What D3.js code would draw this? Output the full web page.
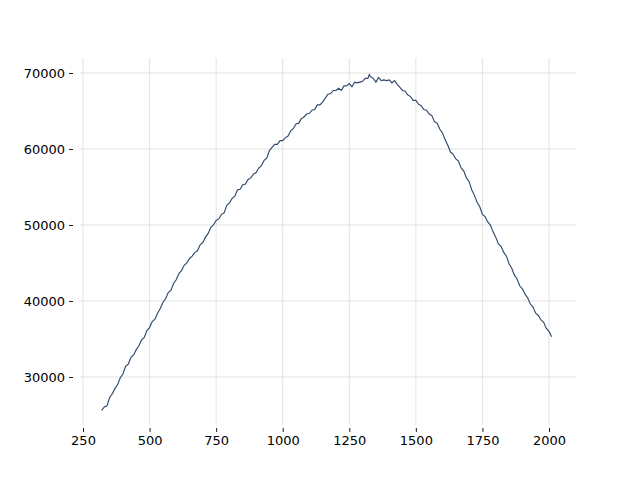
<!DOCTYPE html>
<html><head><meta charset="utf-8">
<script src="https://cdn.jsdelivr.net/npm/d3@7"></script>
<style>body{margin:0;background:#fff}svg{display:block}</style>
</head><body>
<script>
const xValues = [320,330,340,350,360,370,380,390,400,410,420,430,440,450,460,470,480,490,500,510,520,530,540,550,560,570,580,590,600,610,620,630,640,650,660,670,680,690,700,710,720,730,740,750,760,770,780,790,800,810,820,830,840,850,860,870,880,890,900,910,920,930,940,950,960,970,980,990,1000,1010,1020,1030,1040,1050,1060,1070,1080,1090,1100,1110,1120,1130,1140,1150,1160,1170,1180,1190,1200,1210,1220,1230,1240,1250,1260,1270,1280,1290,1300,1310,1320,1325,1330,1340,1350,1360,1370,1380,1390,1400,1410,1420,1430,1440,1450,1460,1470,1480,1490,1500,1510,1520,1530,1540,1550,1560,1570,1580,1590,1600,1610,1620,1630,1640,1650,1660,1670,1680,1690,1700,1710,1720,1730,1740,1750,1760,1770,1780,1790,1800,1810,1820,1830,1840,1850,1860,1870,1880,1890,1900,1910,1920,1930,1940,1950,1960,1970,1980,1990,2000,2010];
const yValues = [25600,26050,26200,27300,27800,28500,29000,29900,30400,31400,31700,32600,32900,33600,34100,34900,35200,36100,36500,37300,37600,38400,39000,39800,40300,41100,41400,42300,42800,43600,44000,44700,45000,45600,45900,46400,46600,47400,47700,48400,48900,49700,50000,50600,50800,51400,51600,52600,52900,53500,53800,54600,54700,55300,55400,56000,56200,56700,56900,57500,57800,58500,58800,59800,60200,60600,60600,61100,61100,61500,61700,62400,62700,63300,63400,64000,64200,64600,64700,65100,65200,65800,65800,66200,66700,67200,67300,67700,67700,68000,67700,68300,68300,68600,68200,68800,68700,68800,68900,69300,69300,69800,69500,69300,68800,69400,69000,69100,69000,69100,68700,69000,68500,68100,67700,67600,67100,66900,66400,66400,65900,65700,65200,65100,64600,64400,63600,63400,62600,62100,61200,60500,59600,59300,58700,58400,57500,57100,56200,55700,54600,53900,53000,52400,51400,51100,50400,50000,49100,48400,47500,47200,46400,45900,44900,44300,43400,42900,42000,41600,40900,40400,39600,39200,38400,38100,37500,37200,36400,36000,35300];
const xTicks = [250,500,750,1000,1250,1500,1750,2000];
const yTicks = [30000,40000,50000,60000,70000];

const W = 640, H = 480;
const mLeft = 80, mRight = 576, mTop = 58, mBottom = 425;
const svg = d3.select("body").append("svg").attr("width", W).attr("height", H);

const x = d3.scaleLinear().domain([238.7, 2101.4]).range([mLeft, mRight]);
const y = d3.scaleLinear().domain([23684, 71974]).range([mBottom, mTop]);

// grid
const g = svg.append("g");
g.selectAll("line.vx").data(xTicks).join("line")
  .attr("x1", d => x(d)).attr("x2", d => x(d)).attr("y1", mTop).attr("y2", mBottom)
  .attr("stroke", "#e4e4e4").attr("stroke-width", 1.1);
g.selectAll("line.hy").data(yTicks).join("line")
  .attr("y1", d => y(d)).attr("y2", d => y(d)).attr("x1", mLeft).attr("x2", mRight)
  .attr("stroke", "#e4e4e4").attr("stroke-width", 1.1);

// axes
const xAxis = d3.axisBottom(x).tickValues(xTicks).tickSize(4).tickPadding(4).tickFormat(d3.format("d"));
const yAxis = d3.axisLeft(y).tickValues(yTicks).tickSize(4).tickPadding(4).tickFormat(d3.format("d"));
const gx = svg.append("g").attr("transform", `translate(0,${mBottom + 3})`).call(xAxis);
const gy = svg.append("g").attr("transform", `translate(${mLeft - 7},0)`).call(yAxis);
[gx, gy].forEach(a => {
  a.select(".domain").remove();
  a.selectAll(".tick line").attr("stroke", "#000").attr("stroke-width", 0.9);
  a.selectAll(".tick text").attr("fill", "#000")
    .style("font-family", "DejaVu Sans, sans-serif").style("font-size", "13px");
});

// line
const data = xValues.map((v, i) => [v, yValues[i]]);
svg.append("path").datum(data)
  .attr("fill", "none").attr("stroke", "#30496b").attr("stroke-width", 1.15)
  .attr("stroke-linejoin", "miter")
  .attr("d", d3.line().x(d => x(d[0])).y(d => y(d[1])));
</script>
</body></html>
